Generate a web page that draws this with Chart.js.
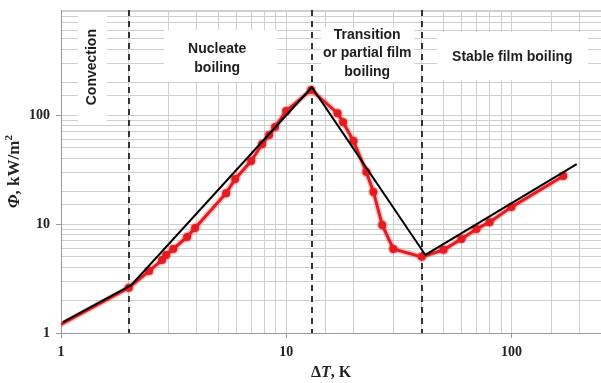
<!DOCTYPE html>
<html>
<head>
<meta charset="utf-8">
<title>Boiling curve</title>
<script src="https://cdn.jsdelivr.net/npm/chart.js@4/dist/chart.umd.min.js"></script>
<style>
  html, body { margin: 0; padding: 0; background: #fff; }
</style>
</head>
<body>
<canvas id="boilingChart" width="601" height="383"></canvas>
<script>
// measured boiling curve (red) and the idealised regime lines (black)
const measuredDT = [1, 2, 2.46, 2.81, 2.93, 3.15, 3.63, 3.94, 5.41, 5.94, 6.99, 7.82, 8.4, 8.93, 10, 12.9,
  16.9, 17.9, 19.9, 22.7, 24.4, 26.7, 29.9, 40, 50, 60, 70, 80, 100, 170];
const measuredPhi = [1.2, 2.6, 3.7, 4.67, 5.2, 5.9, 7.6, 9.2, 19.2, 25.9, 37.8, 54.2, 65.6, 77.6, 109, 170,
  104, 86, 57.7, 30, 19.7, 9.8, 5.9, 5.0, 5.8, 7.3, 9.0, 10.4, 14.3, 27.6];
const idealDT = [1.02, 2.05, 13, 41.5, 195];
const idealPhi = [1.26, 2.75, 180, 5.2, 35.5];

// regime boundaries, K
const boundaries = [2, 13, 40];
const regimeNames = [
  ['Convection'],
  ['Nucleate', 'boiling'],
  ['Transition', 'or partial film', 'boiling'],
  ['Stable film boiling']
];
const decadeLabels = [1, 10, 100];

const toPoints = (xs, ys) => xs.map((x, i) => ({ x: x, y: ys[i] }));
const isDecade = (v) => decadeLabels.includes(v);

// white label boxes sit on the grid (data units), one per regime
const labelBoxes = [
  { x0: 1.19, x1: 1.6, y0: 86, y1: 881, cx: 1.37, cy: 275, rotate: true },
  { x0: 2.87, x1: 9.12, y0: 201, y1: 603, cx: 4.94, cy: 330 },
  { x0: 14.3, x1: 37, y0: 201, y1: 642, cx: 22.9, cy: 367 },
  { x0: 46.9, x1: 218, y0: 209, y1: 577, cx: 101, cy: 341 }
];

const regimePlugin = {
  id: 'regimes',
  beforeDatasetsDraw(chart) {
    const { ctx, chartArea, scales } = chart;
    const xs = scales.x, ys = scales.y;
    ctx.save();

    labelBoxes.forEach((b, i) => {
      const l = xs.getPixelForValue(b.x0), r = xs.getPixelForValue(b.x1);
      const t = ys.getPixelForValue(b.y1), bt = ys.getPixelForValue(b.y0);
      ctx.fillStyle = '#fff';
      ctx.fillRect(l, t, r - l, bt - t);

      const cx = xs.getPixelForValue(b.cx), cy = ys.getPixelForValue(b.cy);
      const lines = regimeNames[i];
      ctx.fillStyle = '#1e1e1e';
      ctx.font = 'bold 14px "Liberation Sans", Arial, sans-serif';
      ctx.textAlign = 'center';
      ctx.textBaseline = 'middle';
      ctx.save();
      ctx.translate(cx, cy);
      if (b.rotate) ctx.rotate(-Math.PI / 2);
      const lh = 18.5;
      lines.forEach((txt, k) => {
        ctx.fillText(txt, 0, (k - (lines.length - 1) / 2) * lh);
      });
      ctx.restore();
    });

    // dashed regime dividers
    ctx.strokeStyle = '#333';
    ctx.lineWidth = 2;
    ctx.setLineDash([6, 5]);
    boundaries.forEach((dt) => {
      const x = Math.round(xs.getPixelForValue(dt));
      ctx.beginPath();
      ctx.moveTo(x, chartArea.top);
      ctx.lineTo(x, chartArea.bottom);
      ctx.stroke();
    });
    ctx.restore();
  },
  afterDraw(chart) {
    const { ctx, chartArea } = chart;
    const drawParts = (parts, x, y) => {
      let w = 0;
      parts.forEach((p) => { ctx.font = p.font; w += ctx.measureText(p.text).width; });
      let cur = x - w / 2;
      parts.forEach((p) => {
        ctx.font = p.font;
        ctx.fillText(p.text, cur, y + (p.dy || 0));
        cur += ctx.measureText(p.text).width;
      });
    };
    const serif = '"Liberation Serif", "Times New Roman", serif';
    ctx.save();
    ctx.fillStyle = '#222';
    ctx.textAlign = 'left';
    ctx.textBaseline = 'middle';

    drawParts([
      { text: '\u0394', font: 'bold 16px ' + serif },
      { text: 'T', font: 'italic bold 16px ' + serif },
      { text: ', K', font: 'bold 16px ' + serif }
    ], (chartArea.left + chartArea.right) / 2, 373);

    ctx.translate(15, (chartArea.top + chartArea.bottom) / 2);
    ctx.rotate(-Math.PI / 2);
    drawParts([
      { text: '\u03A6', font: 'italic bold 17px ' + serif },
      { text: ', kW/m', font: 'bold 17px ' + serif },
      { text: '2', font: 'bold 11px ' + serif, dy: -6 }
    ], 0, 0);
    ctx.restore();
  }
};

const tickFont = { family: '"Liberation Serif", "Times New Roman", serif', size: 14, weight: 'bold' };

const config = {
  type: 'line',
  data: {
    datasets: [
      {
        label: 'Regimes',
        data: toPoints(idealDT, idealPhi),
        borderColor: '#000',
        borderWidth: 2,
        pointRadius: 0,
        tension: 0
      },
      {
        label: 'Measured',
        data: toPoints(measuredDT, measuredPhi),
        borderColor: 'rgb(226, 28, 32)',
        backgroundColor: 'rgb(226, 28, 32)',
        borderWidth: 3,
        pointRadius: measuredDT.map((v, i) => (i === 0 ? 0 : 4)),
        pointBorderWidth: 0,
        tension: 0
      },
      {
        label: 'Halo',
        data: toPoints(measuredDT, measuredPhi),
        borderColor: 'rgba(235, 70, 70, 0.3)',
        borderWidth: 6,
        pointRadius: measuredDT.map((v, i) => (i === 0 ? 0 : 5.5)),
        pointBackgroundColor: 'rgba(235, 70, 70, 0.3)',
        pointBorderWidth: 0,
        tension: 0
      }
    ]
  },
  options: {
    responsive: false,
    animation: false,
    layout: { autoPadding: false, padding: { top: 10, right: 0, left: 0, bottom: 0 } },
    plugins: { legend: { display: false }, tooltip: { enabled: false } },
    scales: {
      x: {
        type: 'logarithmic',
        min: 1,
        max: 250,
        // fixed axis height, no extra room for the (empty) end labels
        afterFit: (s) => { s.height = 50; s.paddingLeft = 0; s.paddingRight = 0; },
        grid: {
          color: '#cfcfcf',
          lineWidth: 1,
          tickLength: 5,
          tickColor: (c) => (c.tick && isDecade(c.tick.value) ? '#999' : 'rgba(0,0,0,0)')
        },
        border: { color: '#999', width: 1 },
        ticks: {
          autoSkip: false,
          maxRotation: 0,
          padding: 6,
          color: '#222',
          font: tickFont,
          callback: (v) => (isDecade(v) ? String(v) : '')
        }
      },
      y: {
        type: 'logarithmic',
        min: 1,
        max: 920,
        afterFit: (s) => { s.width = 61; s.paddingTop = 0; s.paddingBottom = 0; },
        grid: {
          color: '#cfcfcf',
          lineWidth: 1,
          tickLength: 5,
          tickColor: (c) => (c.tick && isDecade(c.tick.value) ? '#999' : 'rgba(0,0,0,0)')
        },
        border: { color: '#999', width: 1 },
        ticks: {
          autoSkip: false,
          padding: 6,
          color: '#222',
          font: tickFont,
          callback: (v) => (isDecade(v) ? String(v) : '')
        }
      }
    }
  },
  plugins: [regimePlugin]
};

const boilingChart = new Chart(document.getElementById('boilingChart'), config);
</script>
</body>
</html>
